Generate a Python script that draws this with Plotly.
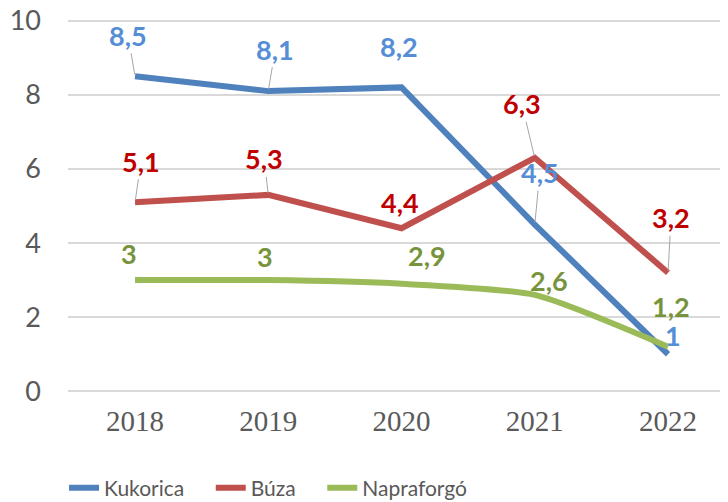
import plotly.graph_objects as go

years = [2018, 2019, 2020, 2021, 2022]
kukorica = [8.5, 8.1, 8.2, 4.5, 1.0]
buza = [5.1, 5.3, 4.4, 6.3, 3.2]
napraforgo = [3.0, 3.0, 2.9, 2.6, 1.2]
series_names = ["Kukorica", "Búza", "Napraforgó"]
y_ticks = [0, 2, 4, 6, 8, 10]

series_values = [kukorica, buza, napraforgo]
line_colors = ["#4F81BD", "#C0504D", "#9BBB59"]
label_colors = ["#558ED5", "#C00000", "#77933C"]
shapes = ["linear", "linear", "spline"]
legend_pad = "\u00a0" * 4

# label offsets (pixels) and leader-line visibility, per series
offsets = [
    [(-7, -41), (7, -42), (-3, -41), (5, -52), (5, -19)],
    [(6, -41), (-4, -36), (-2, -26), (-13, -54), (3, -55)],
    [(-6, -27), (-3, -24), (25, -28), (14, -14), (3, -40)],
]
leaders = [
    [True, True, False, True, True],
    [True, True, False, True, True],
    [False, False, False, False, False],
]


def fmt(v):
    s = ("%g" % v)
    return s.replace(".", ",")


fig = go.Figure()
for name, vals, lc, shp in zip(series_names, series_values, line_colors, shapes):
    fig.add_trace(go.Scatter(
        x=years, y=vals, name=name + legend_pad, mode="lines",
        line=dict(color=lc, width=6, shape=shp, smoothing=0.6),
        hoverinfo="skip",
    ))

annotations = []
for si, vals in enumerate(series_values):
    for i, (x, v) in enumerate(zip(years, vals)):
        dx, dy = offsets[si][i]
        common = dict(
            x=x, y=v, xref="x", yref="y", text="<b>" + fmt(v) + "</b>",
            font=dict(family="Lato, Open Sans, sans-serif", size=27,
                      color=label_colors[si]),
        )
        if leaders[si][i]:
            annotations.append(dict(
                **common, showarrow=True, arrowhead=0, arrowwidth=1,
                arrowcolor="#A6A6A6", ax=dx, ay=dy, standoff=2,
            ))
        else:
            annotations.append(dict(
                **common, showarrow=False, xshift=dx, yshift=-dy,
            ))

# page body has an 8px margin, so the figure is sized to fit the window
fig.update_layout(
    width=720, height=494,
    margin=dict(l=60, r=0, t=9, b=107, autoexpand=False),
    paper_bgcolor="white", plot_bgcolor="white",
    annotations=annotations,
    showlegend=True,
    legend=dict(
        orientation="h", x=-0.006, xanchor="left", y=-0.246, yanchor="middle",
        font=dict(family="Lato, Open Sans, sans-serif", size=21, color="#595959"),
        itemwidth=30, tracegroupgap=0,
    ),
    xaxis=dict(
        range=[2017.497, 2022.45], tickvals=years, ticktext=[str(y) for y in years],
        showgrid=False, zeroline=False, showline=False, ticks="",
        tickfont=dict(family="Liberation Serif, Times New Roman, serif", size=29, color="#595959"),
        ticklabelstandoff=6, automargin=False,
    ),
    yaxis=dict(
        range=[-0.1, 10.1], tickvals=y_ticks,
        showgrid=True, gridcolor="#D9D9D9", gridwidth=1.5,
        zeroline=False, showline=False, ticks="",
        tickfont=dict(family="Lato, Open Sans, sans-serif", size=27, color="#595959"),
        ticklabelstandoff=26, automargin=False, ticklabeloverflow="allow",
    ),
)

fig.write_html("out.html")
